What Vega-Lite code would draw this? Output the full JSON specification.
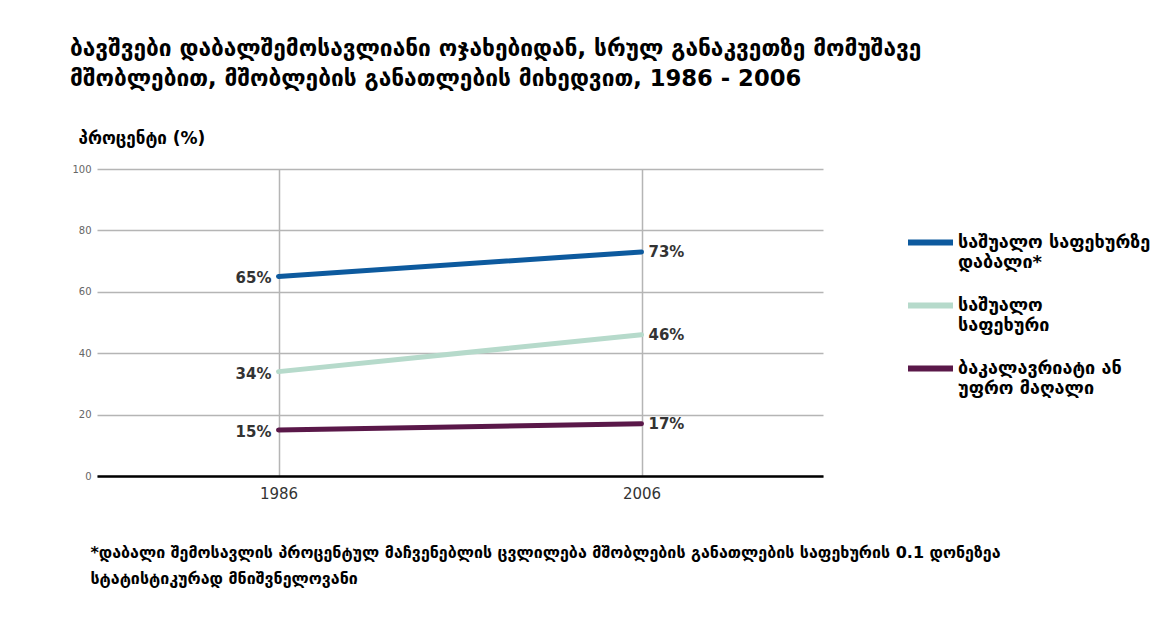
{
  "$schema": "https://vega.github.io/schema/vega-lite/v6.json",
  "width": 726,
  "height": 307,
  "autosize": {"type": "none"},
  "padding": {"left": 97, "top": 169, "right": 353, "bottom": 152},
  "background": "white",
  "config": {
    "view": {"stroke": null},
    "font": "DejaVu Sans"
  },
  "title": {
    "text": ["ბავშვები დაბალშემოსავლიანი  ოჯახებიდან, სრულ განაკვეთზე მომუშავე", "მშობლებით, მშობლების განათლების მიხედვით, 1986 - 2006"],
    "anchor": "start",
    "frame": "group",
    "dx": -27,
    "offset": 38,
    "fontSize": 22.7,
    "fontWeight": "bold",
    "color": "#000000",
    "lineHeight": 30
  },
  "data": {
    "values": [
      {"year": "1986", "group": "საშუალო საფეხურზე დაბალი*", "value": 65, "label": "65%"},
      {"year": "2006", "group": "საშუალო საფეხურზე დაბალი*", "value": 73, "label": "73%"},
      {"year": "1986", "group": "საშუალო საფეხური", "value": 34, "label": "34%"},
      {"year": "2006", "group": "საშუალო საფეხური", "value": 46, "label": "46%"},
      {"year": "1986", "group": "ბაკალავრიატი ან უფრო მაღალი", "value": 15, "label": "15%"},
      {"year": "2006", "group": "ბაკალავრიატი ან უფრო მაღალი", "value": 17, "label": "17%"}
    ]
  },
  "encoding": {
    "x": {
      "field": "year",
      "type": "ordinal",
      "scale": {"type": "point", "padding": 0.5},
      "axis": {
        "labelAngle": 0,
        "labelFontSize": 15,
        "labelColor": "#333333",
        "labelPadding": 10,
        "ticks": false,
        "domainColor": "#000000",
        "domainWidth": 2.5,
        "grid": true,
        "gridColor": "#b5b5b5",
        "gridWidth": 1.5,
        "title": ["*დაბალი შემოსავლის პროცენტულ მაჩვენებლის ცვლილება მშობლების განათლების საფეხურის 0.1 დონეზეა", "სტატისტიკურად მნიშვნელოვანი"],
        "titleAnchor": "start",
        "titleAlign": "left",
        "titleBaseline": "middle",
        "titleX": -7,
        "titleY": 76,
        "titleFontSize": 16,
        "titleFontWeight": "bold",
        "titleColor": "#000000",
        "titleLineHeight": 26
      }
    },
    "y": {
      "field": "value",
      "type": "quantitative",
      "scale": {"domain": [0, 100]},
      "axis": {
        "values": [0, 20, 40, 60, 80, 100],
        "labelFontSize": 10,
        "labelColor": "#666666",
        "labelPadding": 6,
        "ticks": false,
        "domain": false,
        "gridColor": "#b5b5b5",
        "gridWidth": 1.5,
        "title": "პროცენტი (%)",
        "titleAngle": 0,
        "titleAlign": "left",
        "titleBaseline": "middle",
        "titleX": -19,
        "titleY": -31,
        "titleFontSize": 17,
        "titleFontWeight": "bold",
        "titleColor": "#000000"
      }
    }
  },
  "layer": [
    {
      "mark": {"type": "line", "strokeWidth": 5, "strokeCap": "round"},
      "encoding": {
        "color": {
          "field": "group",
          "type": "nominal",
          "scale": {
            "domain": ["საშუალო საფეხურზე დაბალი*", "საშუალო საფეხური", "ბაკალავრიატი ან უფრო მაღალი"],
            "range": ["#0d5a9e", "#b6dacb", "#5a1849"]
          },
          "legend": {
            "orient": "none",
            "legendX": 808,
            "legendY": 48,
            "title": null,
            "symbolType": "stroke",
            "symbolSize": 2025,
            "symbolStrokeWidth": 6,
            "labelFontSize": 18,
            "labelFontWeight": "bold",
            "labelColor": "#000000",
            "labelOffset": 2,
            "labelLimit": 300,
            "labelLineHeight": 26,
            "rowPadding": 8,
            "labelExpr": "datum.label == 'საშუალო საფეხურზე დაბალი*' ? ['საშუალო საფეხურზე', 'დაბალი*'] : datum.label == 'საშუალო საფეხური' ? ['საშუალო', 'საფეხური'] : ['ბაკალავრიატი ან', 'უფრო მაღალი']"
          }
        }
      }
    },
    {
      "transform": [{"filter": "datum.year == '1986'"}],
      "mark": {"type": "text", "align": "right", "dx": -7, "dy": 2, "fontSize": 15, "fontWeight": "bold", "color": "#333333"},
      "encoding": {"text": {"field": "label", "type": "nominal"}}
    },
    {
      "transform": [{"filter": "datum.year == '2006'"}],
      "mark": {"type": "text", "align": "left", "dx": 7, "dy": 0, "fontSize": 15, "fontWeight": "bold", "color": "#333333"},
      "encoding": {"text": {"field": "label", "type": "nominal"}}
    }
  ]
}
